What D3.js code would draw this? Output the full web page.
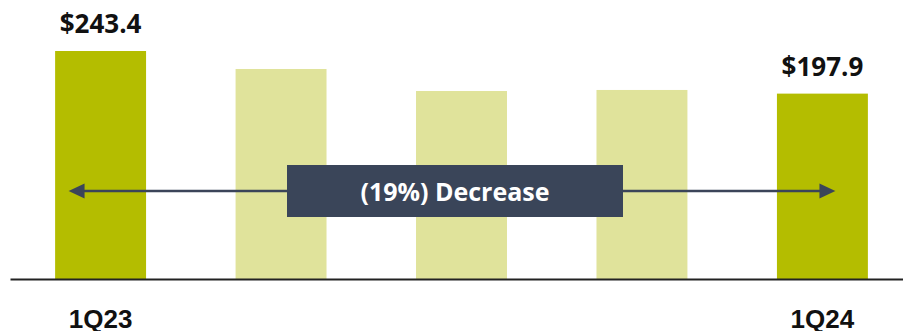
<!DOCTYPE html>
<html>
<head>
<meta charset="utf-8">
<script src="https://cdn.jsdelivr.net/npm/d3@7"></script>
<style>
  body { margin: 0; background: #fff; }
  svg { display: block; font-family: "Open Sans", "Noto Sans", sans-serif; }
  .axis path { stroke: #222; stroke-width: 2; }
  .axis text { font-size: 26px; font-weight: bold; fill: #111; }
  .value-label { font-size: 26px; font-weight: bold; fill: #111; }
</style>
</head>
<body>
<svg id="chart" width="903" height="331"></svg>
<script>
// quarterly values (in $M)
let quarters = ["1Q23", "2Q23", "3Q23", "4Q23", "1Q24"];
let values = [243.4, 224.2, 200.7, 201.8, 197.9];
let shownLabels = ["1Q23", "1Q24"];
let valueLabels = ["$243.4", "", "", "", "$197.9"];
let calloutText = "(19%) Decrease";

let data = quarters.map((q, i) => ({ quarter: q, value: values[i], label: valueLabels[i] }));

let width = 903,
    height = 331,
    baseline = 279;

let svg = d3.select("#chart");

let xScale = d3.scaleBand()
    .domain(quarters)
    .range([10, 913])
    .paddingInner(0.496)
    .paddingOuter(0.25);

let yScale = d3.scaleLinear()
    .domain([0, 243.4])
    .range([baseline, 51]);

let highlight = d => d.quarter === "1Q23" || d.quarter === "1Q24";

// bars
svg.selectAll("rect.bar")
    .data(data)
    .join("rect")
    .attr("class", "bar")
    .attr("x", d => xScale(d.quarter))
    .attr("y", d => yScale(d.value))
    .attr("width", xScale.bandwidth())
    .attr("height", d => baseline - yScale(d.value))
    .attr("fill", d => highlight(d) ? "#b4bd00" : "#e0e39b");

// value labels (only first & last)
svg.selectAll("text.value-label")
    .data(data.filter(d => d.label))
    .join("text")
    .attr("class", "value-label")
    .attr("x", d => xScale(d.quarter) + xScale.bandwidth() / 2)
    .attr("y", d => yScale(d.value) - 18)
    .attr("text-anchor", "middle")
    .text(d => d.label);

// x axis
svg.append("g")
    .attr("class", "axis")
    .attr("transform", "translate(0," + baseline + ")")
    .call(d3.axisBottom(xScale).tickValues(shownLabels).tickSize(0).tickPadding(31).tickSizeOuter(0))
    .call(g => g.selectAll("text").attr("font-family", null).attr("font-size", null));

// arrow between first and last bar
let arrowY = 191;
let x1 = xScale("1Q23") + xScale.bandwidth() / 2 - 32;
let x2 = xScale("1Q24") + xScale.bandwidth() / 2 + 13;
let arrowColor = "#3b4559";

svg.append("line")
    .attr("x1", x1 + 10)
    .attr("x2", x2 - 10)
    .attr("y1", arrowY)
    .attr("y2", arrowY)
    .attr("stroke", arrowColor)
    .attr("stroke-width", 2.5);

svg.append("path")
    .attr("d", `M${x1},${arrowY} L${x1 + 16},${arrowY - 7.5} L${x1 + 16},${arrowY + 7.5} Z`)
    .attr("fill", arrowColor);

svg.append("path")
    .attr("d", `M${x2},${arrowY} L${x2 - 16},${arrowY - 7.5} L${x2 - 16},${arrowY + 7.5} Z`)
    .attr("fill", arrowColor);

// callout box
svg.append("rect")
    .attr("x", 287)
    .attr("y", 165)
    .attr("width", 336)
    .attr("height", 52)
    .attr("fill", "#3a4559");

svg.append("text")
    .attr("x", 455)
    .attr("y", 201)
    .attr("text-anchor", "middle")
    .attr("fill", "#fff")
    .attr("font-size", 25)
    .attr("font-weight", "bold")
    .text(calloutText);
</script>
</body>
</html>
